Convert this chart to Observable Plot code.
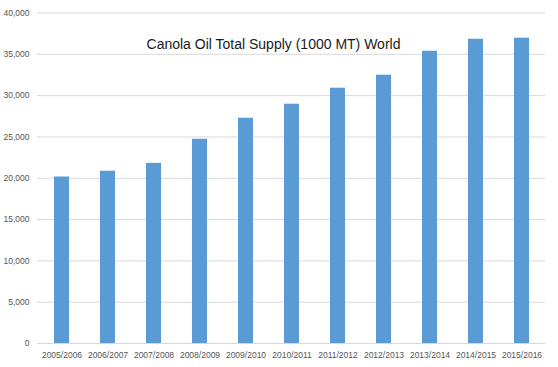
<!DOCTYPE html>
<html>
<head>
<meta charset="utf-8">
<script src="https://cdn.jsdelivr.net/npm/d3@7"></script>
<script src="https://cdn.jsdelivr.net/npm/@observablehq/plot@0.6"></script>
<style>
  html, body { margin: 0; padding: 0; background: #fff; }
</style>
</head>
<body>
<div id="chart"></div>
<script>
const years = ["2005/2006","2006/2007","2007/2008","2008/2009","2009/2010","2010/2011","2011/2012","2012/2013","2013/2014","2014/2015","2015/2016"];
const supply = [20150, 20850, 21800, 24720, 27260, 28960, 30900, 32470, 35370, 36820, 36950];
const yTicks = [0, 5000, 10000, 15000, 20000, 25000, 30000, 35000, 40000];
const title = "Canola Oil Total Supply (1000 MT) World";

const data = years.map((y, i) => ({year: y, value: supply[i]}));

const chart = Plot.plot({
  width: 558,
  height: 367,
  marginLeft: 37,
  marginRight: 13,
  marginTop: 12.5,
  marginBottom: 24,
  style: {fontFamily: "'Liberation Sans', Arial, sans-serif", fontSize: "8.5px", color: "#555", background: "#fff"},
  x: {domain: years, paddingInner: 0.675, paddingOuter: 0.3375, label: null, tickSize: 0, tickPadding: 8},
  y: {domain: [0, 40000], ticks: yTicks, tickFormat: d3.format(","), label: null, tickSize: 0, tickPadding: 8},
  marks: [
    Plot.gridY(yTicks, {stroke: "#d9d9d9", strokeOpacity: 1, strokeWidth: 1}),
    Plot.barY(data, {x: "year", y: "value", fill: "#5b9bd5"}),
    Plot.text([title], {frameAnchor: "top", dx: -18, dy: 31.5, lineAnchor: "middle", fontSize: 14, fill: "#1a1a1a", fontFamily: "'Liberation Sans', Arial, sans-serif"})
  ]
});
document.getElementById("chart").appendChild(chart);
</script>
</body>
</html>
